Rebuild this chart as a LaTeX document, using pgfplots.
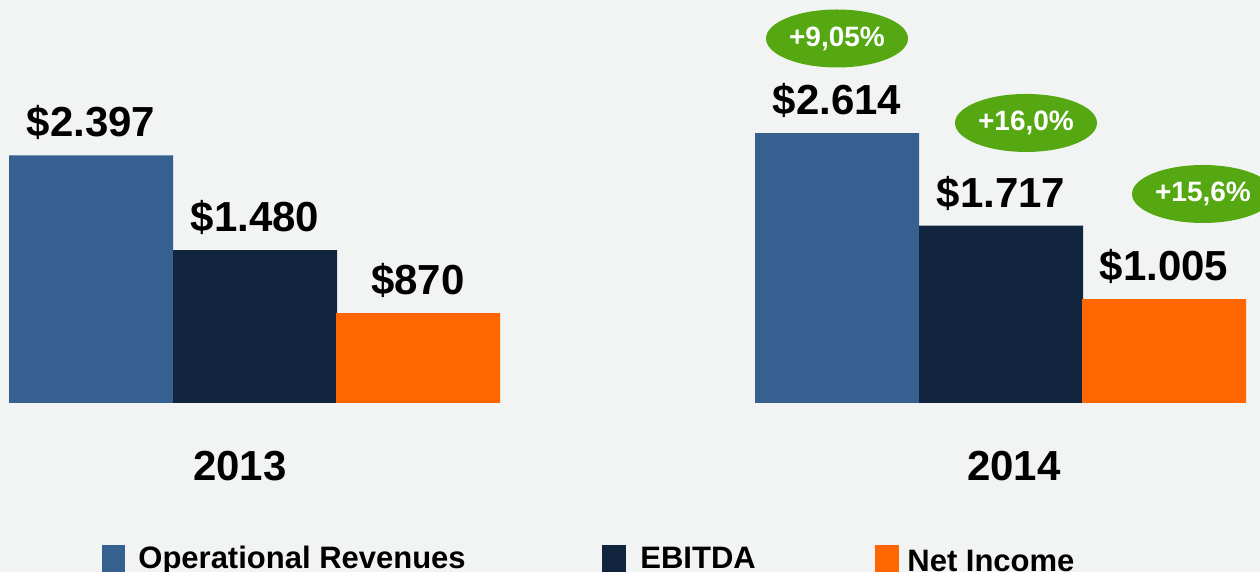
\documentclass[border=0pt]{standalone}
\usepackage{fontspec}
\setmainfont{Liberation Sans}
\usepackage{pgfplots}
\pgfplotsset{compat=1.18}
\usetikzlibrary{shapes.geometric}

\definecolor{bg}{HTML}{F2F4F3}
\definecolor{revblue}{HTML}{36608F}
\definecolor{ebitda}{HTML}{12253F}
\definecolor{netinc}{HTML}{FF6600}
\definecolor{grn}{HTML}{55A812}

\begin{document}
\begin{tikzpicture}
\fill[bg] (0,0) rectangle (630pt,286pt);
\begin{axis}[
  at={(0,0)}, anchor=south west,
  width=630pt, height=286pt, scale only axis,
  hide axis, clip=false,
  xmin=0, xmax=1260, ymin=-1637, ymax=3903,
  ybar, bar width=164, bar shift=0pt,
  nodes near coords={\$\pgfmathprintnumber{\pgfplotspointmeta}},
  /pgf/number format/1000 sep={.},
  /pgf/number format/assume math mode=true,
  every node near coord/.append style={font=\fontsize{21}{25}\selectfont\bfseries,
    text=black, inner sep=0pt, yshift=7.5pt},
]
% 2013 / 2014, x = group position across the slide
\addplot[fill=revblue, draw=none, bar shift=0pt] coordinates {(91,2397) (837,2614)};
\addplot[fill=ebitda, draw=none, bar shift=0pt] coordinates {(255,1480) (1001,1717)};
\addplot[fill=netinc, draw=none, bar shift=0pt] coordinates {(418,870) (1164,1005)};

% growth bubbles
\tikzset{bubble/.style={ellipse, fill=grn, inner sep=0pt, minimum width=71pt,
  minimum height=29pt, text=white, font=\fontsize{14}{16}\selectfont\bfseries}}
\node[bubble] at (axis cs:837,3530) {+9,05\%};
\node[bubble] at (axis cs:1026,2712) {+16,0\%};
\node[bubble] at (axis cs:1203,2024) {+15,6\%};

% years
\node[font=\fontsize{21}{25}\selectfont\bfseries] at (axis cs:240,-610) {2013};
\node[font=\fontsize{21}{25}\selectfont\bfseries] at (axis cs:1014,-610) {2014};

% legend
\tikzset{leg/.style={anchor=base west, inner sep=0pt, font=\fontsize{15.5}{18}\selectfont\bfseries}}
\fill[revblue] (axis cs:102,-1375) rectangle (axis cs:125,-1700);
\node[leg] at (axis cs:138,-1608) {Operational Revenues};
\fill[ebitda] (axis cs:602,-1375) rectangle (axis cs:626,-1700);
\node[leg] at (axis cs:640,-1600) {EBITDA};
\fill[netinc] (axis cs:875,-1375) rectangle (axis cs:899,-1700);
\node[leg] at (axis cs:907,-1637) {Net Income};
\end{axis}
\pgfresetboundingbox
\useasboundingbox (0,0) rectangle (630pt,286pt);
\end{tikzpicture}
\end{document}
